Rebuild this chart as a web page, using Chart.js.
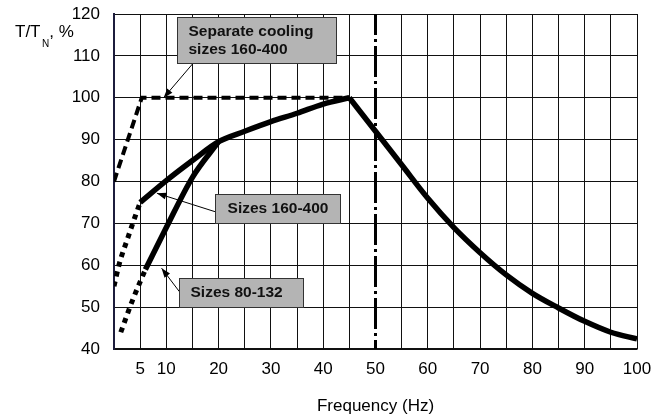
<!DOCTYPE html>
<html>
<head>
<meta charset="utf-8">
<script src="https://cdn.jsdelivr.net/npm/chart.js@4.4.1/dist/chart.umd.min.js"></script>
<style>
    body { margin: 0; background: #fff; }
    #chart { display: block; }
</style>
</head>
<body>
<canvas id="chart" width="667" height="419"></canvas>
<script>
// torque derating curves
const coolingFreq = [0, 5.3, 45];
const coolingTorque = [80, 100, 100];

const bigStartFreq = [0, 1, 2.5, 4, 5];
const bigStartTorque = [55, 60.3, 66, 71.5, 75];
const bigFreq = [5, 10, 15, 20, 25, 30, 35, 40, 45];
const bigTorque = [75, 80.2, 85, 89.5, 92, 94.3, 96.3, 98.5, 100];

const smallStartFreq = [1.3, 3.5, 6];
const smallStartTorque = [44, 51.5, 59];
const smallFreq = [6, 10, 15, 20];
const smallTorque = [59, 69, 81, 89.5];

const fieldWeakFreq = [45, 50, 55, 60, 65, 70, 75, 80, 85, 90, 95, 100];
const fieldWeakTorque = [100, 92, 84, 76, 69, 63, 57.7, 53.3, 49.8, 46.6, 44, 42.4];

const ratedFreq = [50, 50];
const ratedSpan = [120, 40];

const xTickLabels = [5, 10, 20, 30, 40, 50, 60, 70, 80, 90, 100];

const FONT = '"Liberation Sans", Arial, sans-serif';

function pts(xs, ys) {
    return xs.map((x, i) => ({ x: x, y: ys[i] }));
}

// callout boxes, placed in data units
const callouts = [
    { lines: ['Separate cooling', 'sizes 160-400'], x0: 12.1, x1: 42.4, y0: 119.4, y1: 108.2, align: 'left',
      from: [15.1, 108.2], to: [9.5, 100] },
    { lines: ['Sizes 160-400'], x0: 19.3, x1: 43.3, y0: 77.0, y1: 70.0, align: 'center',
      from: [19.3, 72.8], to: [8.2, 77.2] },
    { lines: ['Sizes 80-132'], x0: 12.5, x1: 36.2, y0: 56.9, y1: 50.1, align: 'left',
      from: [12.5, 53.7], to: [9.1, 59.3] }
];

const extrasPlugin = {
    id: 'extras',
    afterDraw(chart) {
        const ctx = chart.ctx;
        const xs = chart.scales.x, ys = chart.scales.y;
        ctx.save();

        // callouts
        callouts.forEach(c => {
            const fx = xs.getPixelForValue(c.from[0]), fy = ys.getPixelForValue(c.from[1]);
            const tx = xs.getPixelForValue(c.to[0]), ty = ys.getPixelForValue(c.to[1]);
            ctx.strokeStyle = '#000';
            ctx.lineWidth = 1;
            ctx.beginPath();
            ctx.moveTo(fx, fy);
            ctx.lineTo(tx, ty);
            ctx.stroke();
            const ang = Math.atan2(ty - fy, tx - fx);
            ctx.fillStyle = '#000';
            ctx.beginPath();
            ctx.moveTo(tx, ty);
            ctx.lineTo(tx - 10 * Math.cos(ang - 0.35), ty - 10 * Math.sin(ang - 0.35));
            ctx.lineTo(tx - 10 * Math.cos(ang + 0.35), ty - 10 * Math.sin(ang + 0.35));
            ctx.closePath();
            ctx.fill();

            const l = Math.round(xs.getPixelForValue(c.x0)) + 0.5;
            const r = Math.round(xs.getPixelForValue(c.x1)) + 0.5;
            const t = Math.round(ys.getPixelForValue(c.y0)) + 0.5;
            const b = Math.round(ys.getPixelForValue(c.y1)) + 0.5;
            ctx.fillStyle = '#b4b4b4';
            ctx.fillRect(l, t, r - l, b - t);
            ctx.strokeStyle = '#333';
            ctx.strokeRect(l, t, r - l, b - t);

            ctx.fillStyle = '#111';
            ctx.font = 'bold 15.5px ' + FONT;
            ctx.textBaseline = 'middle';
            const mid = (t + b) / 2;
            const step = 18.4;
            c.lines.forEach((txt, i) => {
                const y = mid + (i - (c.lines.length - 1) / 2) * step;
                if (c.align === 'center') {
                    ctx.textAlign = 'center';
                    ctx.fillText(txt, (l + r) / 2, y);
                } else {
                    ctx.textAlign = 'left';
                    ctx.fillText(txt, l + 11, y);
                }
            });
        });

        // y axis title with subscript
        ctx.fillStyle = '#000';
        ctx.textAlign = 'left';
        ctx.textBaseline = 'alphabetic';
        ctx.font = '17px ' + FONT;
        ctx.fillText('T/T', 15, 37);
        let w = ctx.measureText('T/T').width;
        ctx.font = '10px ' + FONT;
        ctx.fillText('N', 15 + w + 1.5, 47);
        let w2 = ctx.measureText('N').width;
        ctx.font = '17px ' + FONT;
        ctx.fillText(', %', 15 + w + w2 + 1.5, 37);
        ctx.restore();
    }
};

new Chart(document.getElementById('chart'), {
    type: 'line',
    data: {
        datasets: [
            {
                data: pts(ratedFreq, ratedSpan),
                borderColor: '#000', borderWidth: 3,
                borderDash: [31, 4, 3, 4], borderDashOffset: 10
            },
            {
                data: pts(coolingFreq, coolingTorque),
                borderColor: '#000', borderWidth: 4,
                borderDash: [9, 5]
            },
            {
                data: pts(bigStartFreq, bigStartTorque),
                borderColor: '#000', borderWidth: 5,
                borderDash: [5, 5], cubicInterpolationMode: 'monotone'
            },
            {
                data: pts(smallStartFreq, smallStartTorque),
                borderColor: '#000', borderWidth: 5,
                borderDash: [5, 5], cubicInterpolationMode: 'monotone'
            },
            {
                data: pts(bigFreq, bigTorque),
                borderColor: '#000', borderWidth: 5.5,
                cubicInterpolationMode: 'monotone'
            },
            {
                data: pts(smallFreq, smallTorque),
                borderColor: '#000', borderWidth: 5.5,
                cubicInterpolationMode: 'monotone'
            },
            {
                data: pts(fieldWeakFreq, fieldWeakTorque),
                borderColor: '#000', borderWidth: 5.5,
                cubicInterpolationMode: 'monotone'
            }
        ]
    },
    options: {
        responsive: false,
        animation: false,
        events: [],
        elements: { point: { radius: 0 }, line: { fill: false, borderCapStyle: 'butt' } },
        layout: { padding: { top: 14, right: 30, left: 0, bottom: 0 } },
        plugins: { legend: { display: false }, tooltip: { enabled: false } },
        scales: {
            x: {
                type: 'linear',
                min: 0, max: 100,
                afterFit: (s) => { s.height = 70; s.paddingLeft = 0; s.paddingRight = 0; },
                grid: {
                    // the 50 Hz line is drawn by its own dash-dot dataset
                    color: (c) => c.tick && c.tick.value === 50 ? 'rgba(0,0,0,0)' : '#111',
                    lineWidth: 1, drawTicks: false
                },
                border: { color: '#111', width: 1.5 },
                ticks: {
                    stepSize: 5, autoSkip: false, maxRotation: 0, padding: 10,
                    color: '#000', font: { family: FONT, size: 17 },
                    callback: (v) => xTickLabels.includes(v) ? String(v) : ''
                },
                title: {
                    display: true, text: 'Frequency (Hz)', color: '#000',
                    font: { family: FONT, size: 17 }, padding: { top: 0, bottom: 2 }
                }
            },
            y: {
                min: 40, max: 120,
                afterFit: (s) => { s.width = 114; s.paddingTop = 0; s.paddingBottom = 0; },
                grid: { color: '#111', lineWidth: 1, drawTicks: false },
                border: { color: '#1c1c3c', width: 2 },
                ticks: {
                    stepSize: 10, padding: 14,
                    color: '#000', font: { family: FONT, size: 17 }
                }
            }
        }
    },
    plugins: [extrasPlugin]
});
</script>
</body>
</html>
